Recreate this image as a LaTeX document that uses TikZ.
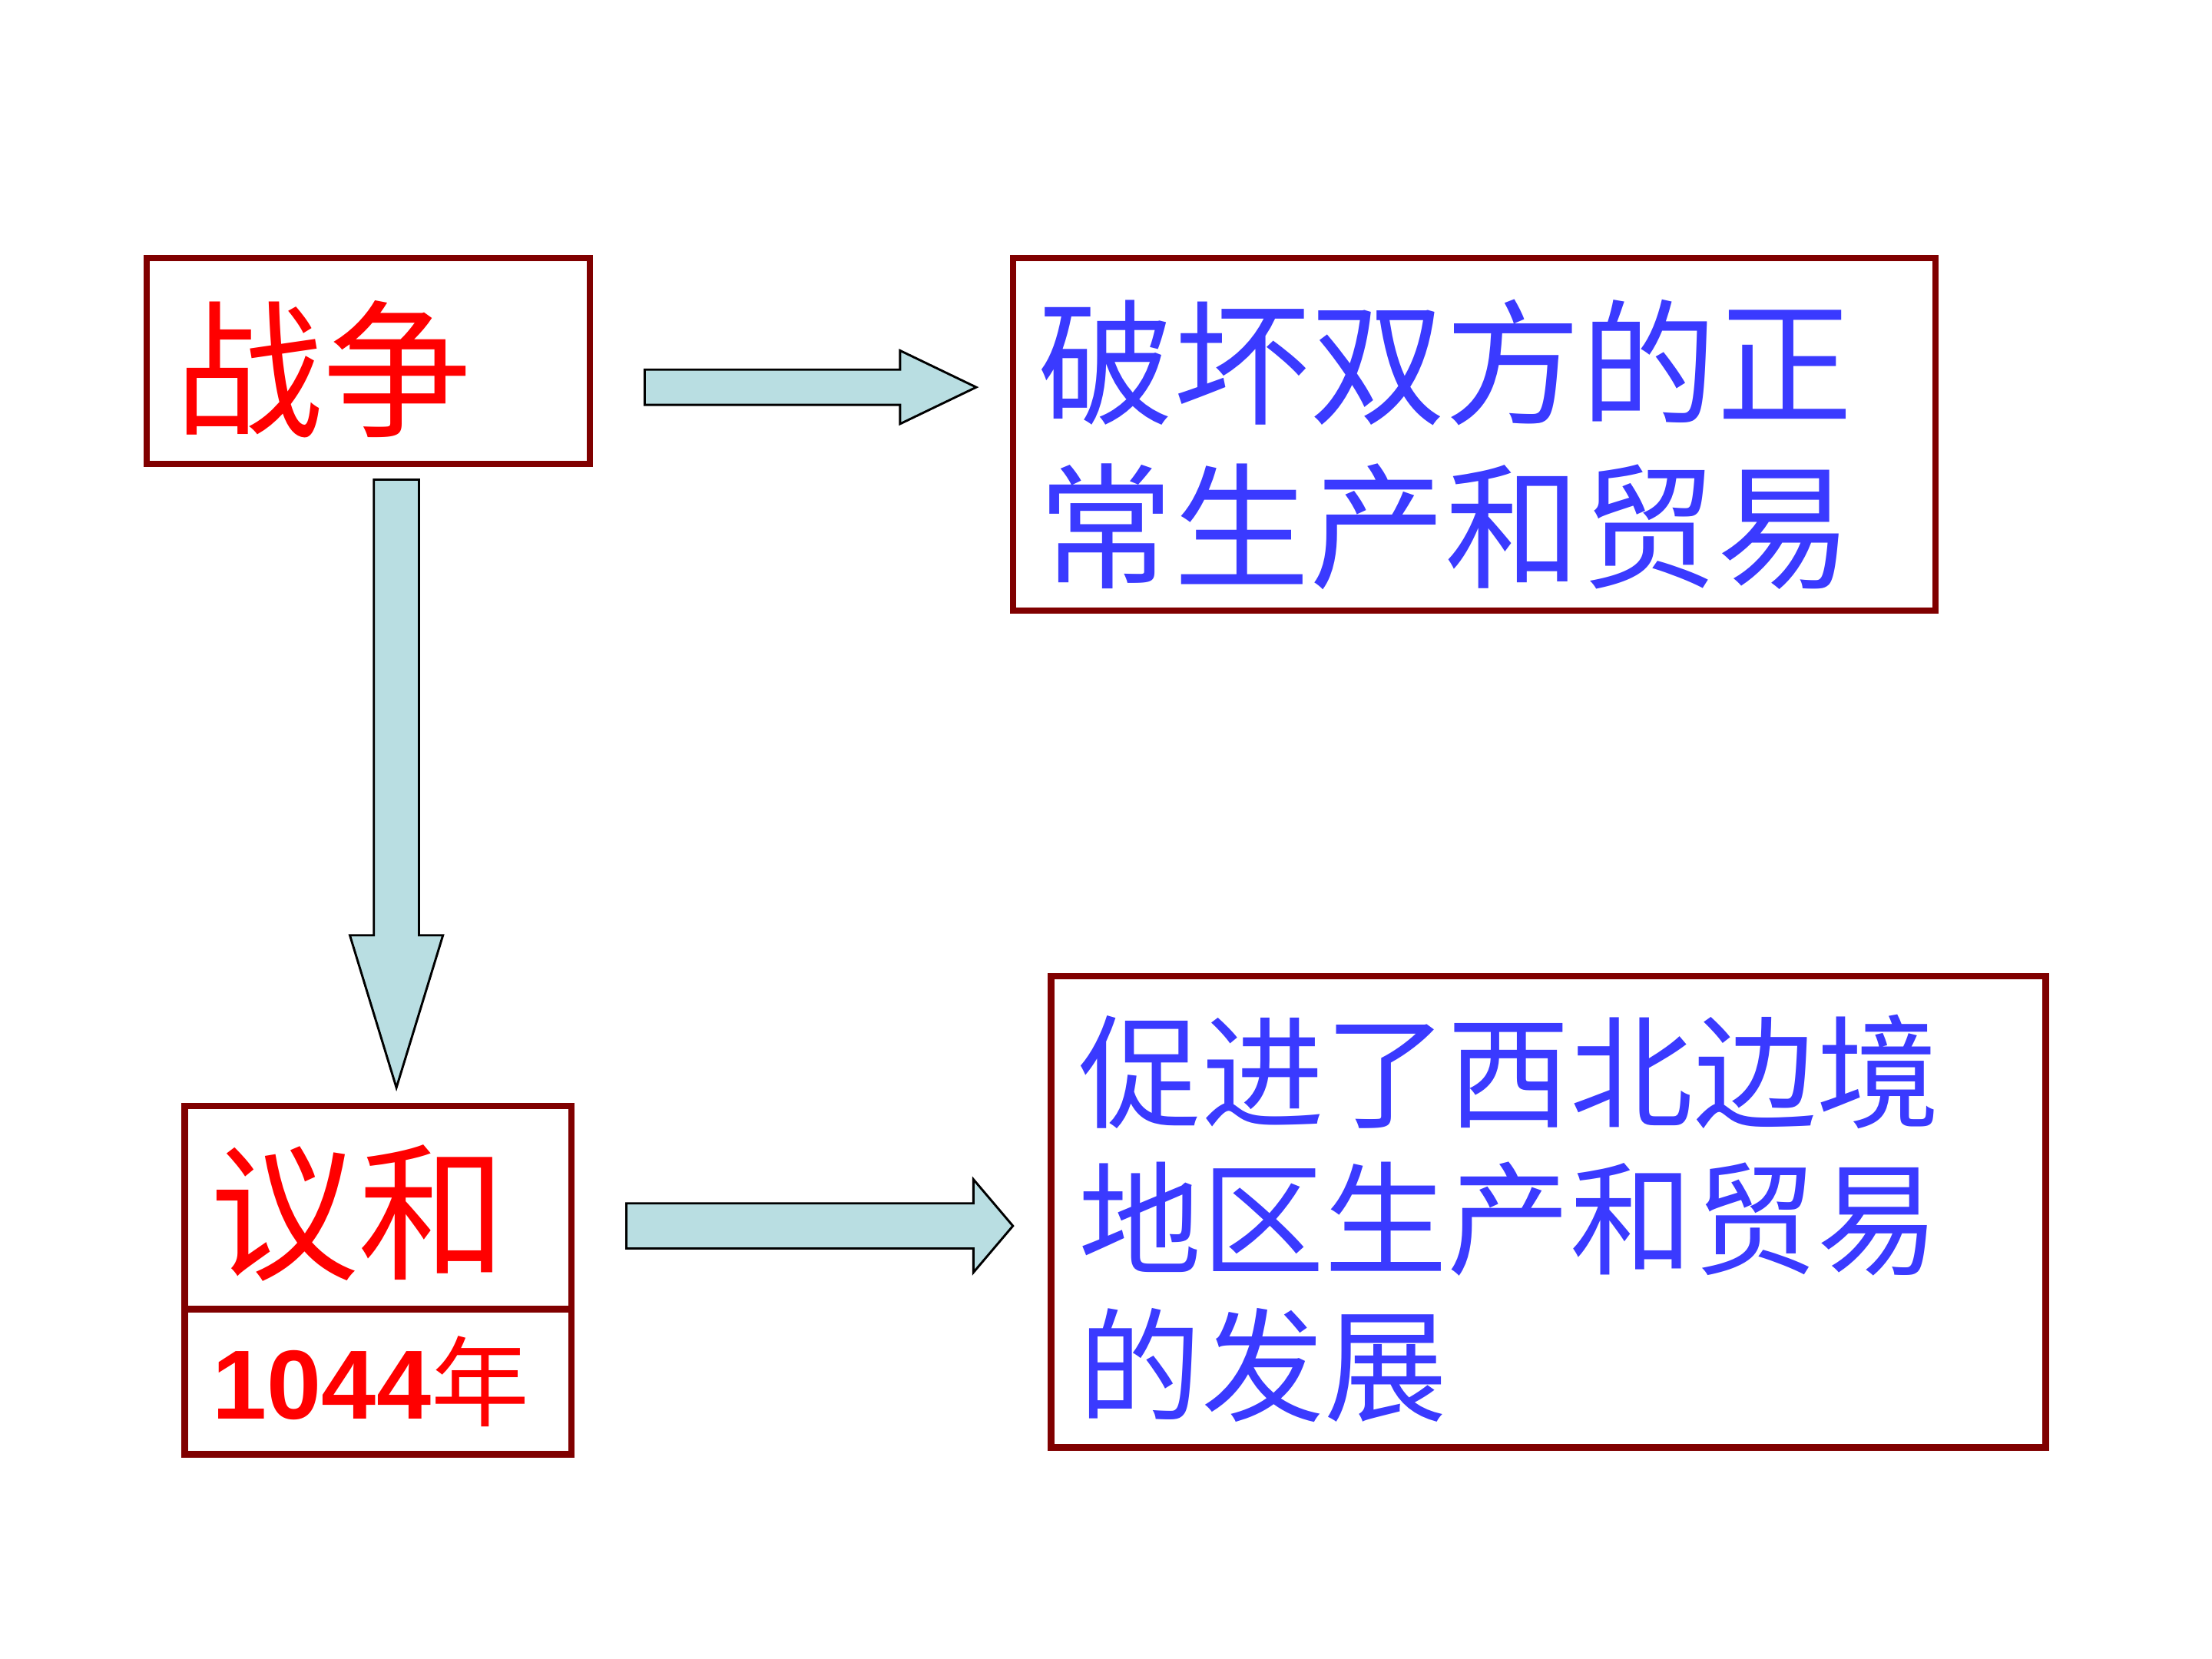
\documentclass[tikz,border=0pt]{standalone}
\usepackage{fontspec}
\newfontfamily\cjk{Noto Sans CJK SC}
\newfontfamily\arialfont{Liberation Sans}
\usetikzlibrary{calc, positioning}
\definecolor{maroon}{RGB}{128, 0, 0}
\definecolor{textblue}{RGB}{58, 58, 255}
\definecolor{paleblue}{RGB}{185, 222, 226}

\begin{document}
\begin{tikzpicture}[
        framebox/.style={draw=maroon, line width=1.3pt, outer sep=0pt, inner sep=0pt},
        label/.style={anchor=west, inner sep=0pt, align=left},
        redtext/.style={label, text=red, font=\cjk\fontsize{30pt}{35pt}\selectfont},
        bluetext/.style={label, text=textblue, font=\cjk\fontsize{27.4pt}{33pt}\selectfont},
        bluesmall/.style={label, text=textblue, font=\cjk\fontsize{24.8pt}{29.6pt}\selectfont},
        blockarrow/.style={draw=black, line width=0.45pt, fill=paleblue, line join=miter}
    ]
    \useasboundingbox (0,0) rectangle (15.68,-11.76);

    % cause boxes
    \node[framebox, minimum width=3.14cm, minimum height=1.46cm] (war) at (2.61,-2.56) {};
    \node[framebox, minimum width=2.74cm, minimum height=1.44cm] (peace) at (2.68,-8.56) {};
    \node[framebox, minimum width=2.74cm, minimum height=1.03cm, below=0pt of peace] (year) {};
    \node[redtext] (wartext) at ($(war.west)+(0.19,-0.06)$) {战争};
    \node[redtext] (peacetext) at ($(peace.west)+(0.17,-0.04)$) {议和};
    \node[label, text=red, font=\fontsize{19.8pt}{24pt}\selectfont] (yeartext) at ($(year.west)+(0.19,0)$)
        {{\arialfont\bfseries 1044}{\cjk 年}};

    % effect boxes
    \node[framebox, minimum width=6.54cm, minimum height=2.50cm] (harm) at (10.45,-3.08) {};
    \node[framebox, minimum width=7.05cm, minimum height=3.34cm] (growth) at (10.975,-8.59) {};
    \node[bluetext] (harmtext) at ($(harm.west)+(0.17,-0.07)$) {破坏双方的正\\常生产和贸易};
    \node[bluesmall] (growthtext) at ($(growth.west)+(0.19,-0.045)$) {促进了西北边境\\地区生产和贸易\\的发展};

    % arrow ends
    \coordinate (downtop) at ($(war.south)+(0.20,-0.11)$);
    \coordinate (downtip) at ($(peace.north)+(0.13,0.13)$);
    \coordinate (harmtail) at ($(war.east)+(0.39,-0.185)$);
    \coordinate (harmtip) at ($(harm.west)+(-0.26,0.335)$);
    \coordinate (growthtail) at ($(peace.east)+(0.39,-0.13)$);
    \coordinate (growthtip) at ($(growth.west)+(-0.27,-0.10)$);

    % block arrows
    \draw[blockarrow] ($(downtop)+(-0.16,0)$) -- ($(downtop)+(0.16,0)$) -- ($(downtip)+(0.16,1.08)$)
        -- ($(downtip)+(0.33,1.08)$) -- (downtip) -- ($(downtip)+(-0.33,1.08)$) -- ($(downtip)+(-0.16,1.08)$) -- cycle;
    \draw[blockarrow] ($(harmtail)+(0,0.125)$) -- ($(harmtip)+(-0.54,0.125)$) -- ($(harmtip)+(-0.54,0.26)$)
        -- (harmtip) -- ($(harmtip)+(-0.54,-0.26)$) -- ($(harmtip)+(-0.54,-0.125)$) -- ($(harmtail)+(0,-0.125)$) -- cycle;
    \draw[blockarrow] ($(growthtail)+(0,0.16)$) -- ($(growthtip)+(-0.28,0.16)$) -- ($(growthtip)+(-0.28,0.33)$)
        -- (growthtip) -- ($(growthtip)+(-0.28,-0.33)$) -- ($(growthtip)+(-0.28,-0.16)$) -- ($(growthtail)+(0,-0.16)$) -- cycle;
\end{tikzpicture}
\end{document}
